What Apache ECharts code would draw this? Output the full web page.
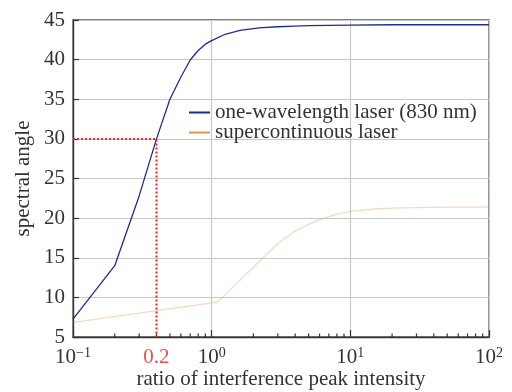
<!DOCTYPE html>
<html>
<head>
<meta charset="utf-8">
<script src="https://cdn.jsdelivr.net/npm/echarts@6/dist/echarts.min.js"></script>
<style>
html,body{margin:0;padding:0;background:#fff;}
#c{width:512px;height:392px;}
</style>
</head>
<body>
<div id="c"></div>
<script>
// ---- data ----
const seriesNames = ['one-wavelength laser (830 nm)', 'supercontinuous laser'];
const laserX = [0.1,0.2,0.3,0.4,0.5,0.6,0.7,0.8,0.9,1,1.25,1.6,2.2,3,4,5,7,10,20,50,100];
const laserY = [7.25,14,22.8,30,35,37.8,39.95,41.15,41.95,42.4,43.2,43.7,44.0,44.15,44.23,44.28,44.33,44.36,44.4,44.4,44.4];
const superX = [0.1,1.1,1.5,2,3,4,5,6,7,8,10,15,20,30,50,100];
const superY = [6.85,9.4,11.7,13.8,16.8,18.4,19.2,19.8,20.2,20.5,20.85,21.15,21.25,21.33,21.38,21.4];
const markX = 0.4;        // where the one-wavelength curve reaches 30
const markY = 30;
const markLabel = '0.2';
const xTickValues = [0.1, 1, 10, 100];
const xTickExponents = ['\u22121', '0', '1', '2'];
const xMinorTicks = [0.2,0.3,0.4,0.5,0.6,0.7,0.8,0.9,2,3,4,5,6,7,8,9,20,30,40,50,60,70,80,90];
const yTicks = [5,10,15,20,25,30,35,40,45];
const xTitle = 'ratio of interference peak intensity';
const yTitle = 'spectral angle';

const font = "'Liberation Serif','Times New Roman',serif";
const zip = (a, b) => a.map((v, i) => [v, b[i]]);

const chart = echarts.init(document.getElementById('c'), null, {renderer: 'canvas'});
chart.setOption({
  animation: false,
  backgroundColor: '#fff',
  textStyle: {fontFamily: font},
  grid: {left: 73, right: 23, top: 20, bottom: 55, show: true, borderColor: '#555', borderWidth: 1.3,
         containLabel: false, outerBoundsMode: 'none'},
  graphic: [
    {type: 'text', x: 281, y: 379.5, silent: true,
     style: {text: xTitle, font: "21px " + font, fill: '#333', align: 'center', verticalAlign: 'middle'}},
    {type: 'text', x: 23, y: 178.5, rotation: Math.PI / 2, silent: true,
     style: {text: yTitle, font: "21px " + font, fill: '#333', align: 'center', verticalAlign: 'middle'}}
  ],
  legend: {
    orient: 'vertical', left: 184, top: 97, itemGap: -1, itemWidth: 21, itemHeight: 2,
    icon: 'rect',
    textStyle: {fontFamily: font, fontSize: 21, color: '#333', lineHeight: 19},
    data: [
      {name: seriesNames[0], itemStyle: {color: '#1f2d8a', opacity: 1}},
      {name: seriesNames[1], itemStyle: {color: '#e8924f', opacity: 1}}
    ]
  },
  xAxis: {
    type: 'log', logBase: 10, min: xTickValues[0], max: xTickValues[xTickValues.length - 1],
    axisLine: {show: true, onZero: false, lineStyle: {color: '#333', width: 1.3}},
    axisTick: {show: true, inside: true, length: 7, lineStyle: {color: '#333', width: 1.2}},
    axisLabel: {
      margin: 9, color: '#333', fontFamily: font,
      formatter: v => {
        const i = xTickValues.findIndex(t => Math.abs(Math.log10(t) - Math.log10(v)) < 1e-6);
        return '{b|10}{s|' + (i >= 0 ? xTickExponents[i] : '') + '}';
      },
      rich: {
        b: {fontSize: 21, fontFamily: font, color: '#333', lineHeight: 22},
        s: {fontSize: 14, fontFamily: font, color: '#333', verticalAlign: 'top', lineHeight: 22, padding: [0,0,8,0]}
      }
    },
    splitLine: {show: true, lineStyle: {color: '#c8c8c8', width: 1.2}}
  },
  yAxis: {
    type: 'value', min: yTicks[0], max: yTicks[yTicks.length - 1], interval: 5,
    axisLine: {show: true, onZero: false, lineStyle: {color: '#333', width: 1.3}},
    axisTick: {show: true, inside: true, length: 6, lineStyle: {color: '#333', width: 1.2}},
    axisLabel: {margin: 8, fontSize: 21, color: '#333', fontFamily: font},
    splitLine: {show: true, lineStyle: {color: '#c8c8c8', width: 1.2}}
  },
  series: [
    {
      name: seriesNames[0], type: 'line', data: zip(laserX, laserY),
      showSymbol: false, symbol: 'none', z: 5,
      lineStyle: {color: '#1f2d8a', width: 1.3}, itemStyle: {color: '#1f2d8a'}
    },
    {
      name: seriesNames[1], type: 'line', data: zip(superX, superY),
      showSymbol: false, symbol: 'none', z: 4,
      lineStyle: {color: '#e8924f', width: 1.3, opacity: 0.35}, itemStyle: {color: '#e8924f'}
    },
    {
      name: 'mark', type: 'line',
      data: [[xTickValues[0], markY], [markX, markY], [markX, yTicks[0]]],
      showSymbol: false, symbol: 'none', z: 6, silent: true,
      lineStyle: {color: '#ff2020', width: 2, type: [2, 2]}
    },
    {
      name: 'markLabel', type: 'scatter',
      data: [[markX, yTicks[0]]], symbolSize: 0.1, silent: true,
      label: {show: true, position: 'bottom', distance: 10, formatter: markLabel, fontSize: 21, fontFamily: font, color: '#e02020'}
    },
    {
      name: 'minorTicks', type: 'custom', silent: true, z: 3,
      data: xMinorTicks.map(v => [v, yTicks[0]]),
      renderItem: (params, api) => {
        const p = api.coord([api.value(0), api.value(1)]);
        return {type: 'line', shape: {x1: p[0], y1: p[1], x2: p[0], y2: p[1] - 3.5},
                style: {stroke: '#333', lineWidth: 1.2}};
      }
    }
  ]
});
</script>
</body>
</html>
